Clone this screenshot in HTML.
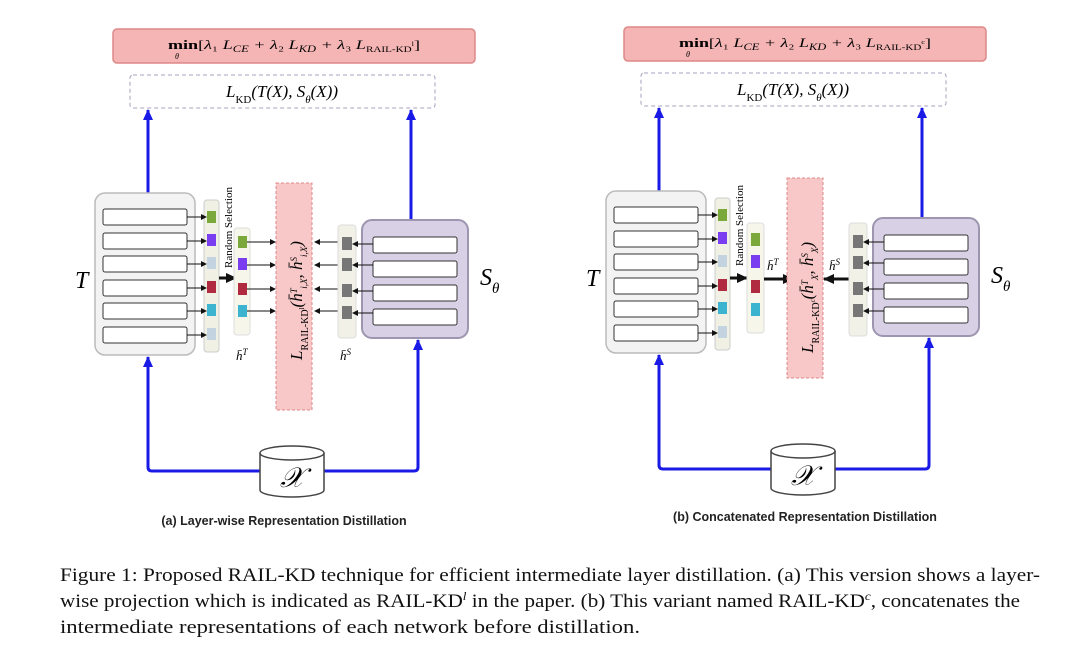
<!DOCTYPE html>
<html><head><meta charset="utf-8"><style>
body{margin:0;background:#fff;width:1080px;height:663px;overflow:hidden}
svg{display:block}
</style></head><body>
<svg width="1080" height="663" viewBox="0 0 1080 663" xmlns="http://www.w3.org/2000/svg" font-family="Liberation Serif, serif">
<defs>
<marker id="a" markerWidth="6" markerHeight="6" refX="5" refY="3" orient="auto" markerUnits="userSpaceOnUse"><path d="M0,0 L6,3 L0,6z" fill="#111"/></marker>
<marker id="b" markerWidth="12" markerHeight="12" refX="10" refY="6" orient="auto" markerUnits="userSpaceOnUse"><path d="M0,1 L11,6 L0,11z" fill="#1a1ae6"/></marker>
<marker id="k" markerWidth="12" markerHeight="10" refX="10" refY="5" orient="auto" markerUnits="userSpaceOnUse"><path d="M0,0 L11,5 L0,10z" fill="#111"/></marker>
</defs>

<!-- ===== Panel (a) ===== -->
<g>
<rect x="113" y="29" width="362" height="34" rx="4" fill="#f5b5b5" stroke="#d88" stroke-width="1.5"/>
<text x="168" y="49" font-size="13" textLength="252" lengthAdjust="spacingAndGlyphs"><tspan font-weight="bold">min</tspan>[<tspan font-style="italic">λ</tspan>₁ <tspan font-style="italic">L<tspan font-size="9" dy="3">CE</tspan><tspan dy="-3"> + λ</tspan></tspan>₂ <tspan font-style="italic">L<tspan font-size="9" dy="3">KD</tspan><tspan dy="-3"> + λ</tspan></tspan>₃ <tspan font-style="italic">L</tspan><tspan font-size="8" dy="3">RAIL-KD</tspan><tspan font-size="6" dy="-6">l</tspan><tspan dy="3">]</tspan></text>
<text x="175" y="59" font-size="8" font-style="italic">θ</text>
<rect x="130" y="75" width="305" height="33" rx="3" fill="#fff" stroke="#a8a0c0" stroke-dasharray="4,3"/>
<text x="282" y="97" font-size="17" text-anchor="middle" font-style="italic">L<tspan font-size="11" font-style="normal" baseline-shift="sub">KD</tspan>(T(X), S<tspan font-size="11" baseline-shift="sub">θ</tspan>(X))</text>

<line x1="148" y1="194" x2="148" y2="110" stroke="#1a1ae6" stroke-width="3" marker-end="url(#b)"/>
<line x1="411" y1="221" x2="411" y2="110" stroke="#1a1ae6" stroke-width="3" marker-end="url(#b)"/>
<path d="M148,360 L148,467 Q148,471 152,471 L260,471" fill="none" stroke="#1a1ae6" stroke-width="3"/>
<path d="M324,471 L414,471 Q418,471 418,467 L418,342" fill="none" stroke="#1a1ae6" stroke-width="3"/>
<line x1="148" y1="400" x2="148" y2="357" stroke="#1a1ae6" stroke-width="3" marker-end="url(#b)"/>
<line x1="418" y1="380" x2="418" y2="340" stroke="#1a1ae6" stroke-width="3" marker-end="url(#b)"/>

<path d="M260,453 L260,490 A32,7 0 0 0 324,490 L324,453" fill="#fff" stroke="#444" stroke-width="1.5"/>
<ellipse cx="292" cy="453" rx="32" ry="7" fill="#fff" stroke="#444" stroke-width="1.5"/>
<text x="292" y="487" font-size="28" text-anchor="middle" font-style="italic">𝒳</text>

<rect x="95" y="193" width="100" height="162" rx="10" fill="#f3f3f3" stroke="#bbb" stroke-width="1.5"/>
<g fill="#fff" stroke="#333" stroke-width="1">
<rect x="103" y="209" width="84" height="16" rx="2"/><rect x="103" y="233" width="84" height="16" rx="2"/><rect x="103" y="256" width="84" height="16" rx="2"/><rect x="103" y="280" width="84" height="16" rx="2"/><rect x="103" y="303" width="84" height="16" rx="2"/><rect x="103" y="327" width="84" height="16" rx="2"/>
</g>
<text x="75" y="288" font-size="24" font-style="italic">T</text>
<rect x="204" y="200" width="15" height="152" rx="3" fill="#f1f0e4" stroke="#ccc"/>
<rect x="207" y="211" width="9" height="12" fill="#7aa83a"/><rect x="207" y="234" width="9" height="12" fill="#7a3ef0"/><rect x="207" y="257" width="9" height="12" fill="#c3d3e0"/><rect x="207" y="281" width="9" height="12" fill="#b02a40"/><rect x="207" y="304" width="9" height="12" fill="#3cb3cf"/><rect x="207" y="328" width="9" height="12" fill="#c3d3e0"/>
<g stroke="#111" stroke-width="1" marker-end="url(#a)">
<line x1="187" y1="217" x2="206" y2="217"/><line x1="187" y1="241" x2="206" y2="241"/><line x1="187" y1="264" x2="206" y2="264"/><line x1="187" y1="288" x2="206" y2="288"/><line x1="187" y1="311" x2="206" y2="311"/><line x1="187" y1="335" x2="206" y2="335"/>
</g>
<text transform="translate(232,268) rotate(-90)" font-size="11">Random Selection</text>
<line x1="219" y1="278" x2="236" y2="278" stroke="#111" stroke-width="3" marker-end="url(#k)"/>
<rect x="234" y="228" width="16" height="107" rx="3" fill="#f6f6ea" stroke="#ddd"/>
<rect x="238" y="236" width="9" height="12" fill="#7aa83a"/><rect x="238" y="258" width="9" height="12" fill="#7a3ef0"/><rect x="238" y="283" width="9" height="12" fill="#b02a40"/><rect x="238" y="305" width="9" height="12" fill="#3cb3cf"/>
<g stroke="#111" stroke-width="1" marker-end="url(#a)">
<line x1="247" y1="242" x2="275" y2="242"/><line x1="247" y1="265" x2="275" y2="265"/><line x1="247" y1="289" x2="275" y2="289"/><line x1="247" y1="311" x2="275" y2="311"/>
<line x1="340" y1="242" x2="315" y2="242"/><line x1="340" y1="265" x2="315" y2="265"/><line x1="340" y1="289" x2="315" y2="289"/><line x1="340" y1="311" x2="315" y2="311"/>
</g>
<text x="236" y="360" font-size="13" font-style="italic">h̄<tspan font-size="9" baseline-shift="super">T</tspan></text>
<rect x="276" y="183" width="36" height="227" fill="#f8c8c8" stroke="#d88" stroke-dasharray="3,2"/>
<text transform="translate(302,360) rotate(-90)" font-size="17" font-style="italic">L<tspan font-size="10" font-style="normal" baseline-shift="sub">RAIL-KD<tspan font-size="7" baseline-shift="super">l</tspan></tspan>(h̄<tspan font-size="9" baseline-shift="super">T</tspan><tspan font-size="9" baseline-shift="sub">i,X</tspan>, h̄<tspan font-size="9" baseline-shift="super">S</tspan><tspan font-size="9" baseline-shift="sub">i,X</tspan>)</text>
<rect x="338" y="225" width="18" height="113" rx="3" fill="#f1f1e8" stroke="#ddd"/>
<rect x="342" y="237" width="10" height="13" fill="#777"/><rect x="342" y="258" width="10" height="13" fill="#777"/><rect x="342" y="284" width="10" height="13" fill="#777"/><rect x="342" y="306" width="10" height="13" fill="#777"/>
<text x="340" y="360" font-size="13" font-style="italic">h̄<tspan font-size="9" baseline-shift="super">S</tspan></text>
<rect x="362" y="220" width="106" height="118" rx="10" fill="#d8d0e4" stroke="#9e95b0" stroke-width="2"/>
<g fill="#fff" stroke="#333" stroke-width="1">
<rect x="373" y="237" width="84" height="16" rx="2"/><rect x="373" y="261" width="84" height="16" rx="2"/><rect x="373" y="285" width="84" height="16" rx="2"/><rect x="373" y="309" width="84" height="16" rx="2"/>
</g>
<g stroke="#111" stroke-width="1" marker-end="url(#a)">
<line x1="373" y1="244" x2="353" y2="244"/><line x1="373" y1="265" x2="353" y2="265"/><line x1="373" y1="291" x2="353" y2="291"/><line x1="373" y1="313" x2="353" y2="313"/>
</g>
<text x="480" y="285" font-size="24" font-style="italic">S<tspan font-size="15" baseline-shift="sub">θ</tspan></text>
<text x="284" y="525" font-size="12.5" font-weight="bold" text-anchor="middle" font-family="Liberation Sans, sans-serif" fill="#222">(a) Layer-wise Representation Distillation</text>
</g>

<!-- ===== Panel (b) ===== -->
<g transform="translate(511,-2)">
<rect x="113" y="29" width="362" height="34" rx="4" fill="#f5b5b5" stroke="#d88" stroke-width="1.5"/>
<text x="168" y="49" font-size="13" textLength="252" lengthAdjust="spacingAndGlyphs"><tspan font-weight="bold">min</tspan>[<tspan font-style="italic">λ</tspan>₁ <tspan font-style="italic">L<tspan font-size="9" dy="3">CE</tspan><tspan dy="-3"> + λ</tspan></tspan>₂ <tspan font-style="italic">L<tspan font-size="9" dy="3">KD</tspan><tspan dy="-3"> + λ</tspan></tspan>₃ <tspan font-style="italic">L</tspan><tspan font-size="8" dy="3">RAIL-KD</tspan><tspan font-size="6" dy="-6">c</tspan><tspan dy="3">]</tspan></text>
<text x="175" y="59" font-size="8" font-style="italic">θ</text>
<rect x="130" y="75" width="305" height="33" rx="3" fill="#fff" stroke="#a8a0c0" stroke-dasharray="4,3"/>
<text x="282" y="97" font-size="17" text-anchor="middle" font-style="italic">L<tspan font-size="11" font-style="normal" baseline-shift="sub">KD</tspan>(T(X), S<tspan font-size="11" baseline-shift="sub">θ</tspan>(X))</text>

<line x1="148" y1="194" x2="148" y2="110" stroke="#1a1ae6" stroke-width="3" marker-end="url(#b)"/>
<line x1="411" y1="221" x2="411" y2="110" stroke="#1a1ae6" stroke-width="3" marker-end="url(#b)"/>
<path d="M148,360 L148,467 Q148,471 152,471 L260,471" fill="none" stroke="#1a1ae6" stroke-width="3"/>
<path d="M324,471 L414,471 Q418,471 418,467 L418,342" fill="none" stroke="#1a1ae6" stroke-width="3"/>
<line x1="148" y1="400" x2="148" y2="357" stroke="#1a1ae6" stroke-width="3" marker-end="url(#b)"/>
<line x1="418" y1="380" x2="418" y2="340" stroke="#1a1ae6" stroke-width="3" marker-end="url(#b)"/>

<path d="M260,453 L260,490 A32,7 0 0 0 324,490 L324,453" fill="#fff" stroke="#444" stroke-width="1.5"/>
<ellipse cx="292" cy="453" rx="32" ry="7" fill="#fff" stroke="#444" stroke-width="1.5"/>
<text x="292" y="487" font-size="28" text-anchor="middle" font-style="italic">𝒳</text>

<rect x="95" y="193" width="100" height="162" rx="10" fill="#f3f3f3" stroke="#bbb" stroke-width="1.5"/>
<g fill="#fff" stroke="#333" stroke-width="1">
<rect x="103" y="209" width="84" height="16" rx="2"/><rect x="103" y="233" width="84" height="16" rx="2"/><rect x="103" y="256" width="84" height="16" rx="2"/><rect x="103" y="280" width="84" height="16" rx="2"/><rect x="103" y="303" width="84" height="16" rx="2"/><rect x="103" y="327" width="84" height="16" rx="2"/>
</g>
<text x="75" y="288" font-size="24" font-style="italic">T</text>
<rect x="204" y="200" width="15" height="152" rx="3" fill="#f1f0e4" stroke="#ccc"/>
<rect x="207" y="211" width="9" height="12" fill="#7aa83a"/><rect x="207" y="234" width="9" height="12" fill="#7a3ef0"/><rect x="207" y="257" width="9" height="12" fill="#c3d3e0"/><rect x="207" y="281" width="9" height="12" fill="#b02a40"/><rect x="207" y="304" width="9" height="12" fill="#3cb3cf"/><rect x="207" y="328" width="9" height="12" fill="#c3d3e0"/>
<g stroke="#111" stroke-width="1" marker-end="url(#a)">
<line x1="187" y1="217" x2="206" y2="217"/><line x1="187" y1="241" x2="206" y2="241"/><line x1="187" y1="264" x2="206" y2="264"/><line x1="187" y1="288" x2="206" y2="288"/><line x1="187" y1="311" x2="206" y2="311"/><line x1="187" y1="335" x2="206" y2="335"/>
</g>
<text transform="translate(232,268) rotate(-90)" font-size="11">Random Selection</text>
<line x1="219" y1="280" x2="236" y2="280" stroke="#111" stroke-width="3" marker-end="url(#k)"/>
<rect x="236" y="225" width="17" height="110" rx="3" fill="#f6f6ea" stroke="#ddd"/>
<rect x="240" y="235" width="9" height="13" fill="#7aa83a"/><rect x="240" y="257" width="9" height="13" fill="#7a3ef0"/><rect x="240" y="282" width="9" height="13" fill="#b02a40"/><rect x="240" y="305" width="9" height="13" fill="#3cb3cf"/>
<text x="256" y="272" font-size="13" font-style="italic">h̄<tspan font-size="9" baseline-shift="super">T</tspan></text>
<line x1="253" y1="281" x2="282" y2="281" stroke="#111" stroke-width="3" marker-end="url(#k)"/>
<rect x="276" y="180" width="36" height="200" fill="#f8c8c8" stroke="#d88" stroke-dasharray="3,2"/>
<text transform="translate(302,355) rotate(-90)" font-size="17" font-style="italic">L<tspan font-size="10" font-style="normal" baseline-shift="sub">RAIL-KD<tspan font-size="7" baseline-shift="super">c</tspan></tspan>(h̄<tspan font-size="9" baseline-shift="super">T</tspan><tspan font-size="9" baseline-shift="sub">X</tspan>, h̄<tspan font-size="9" baseline-shift="super">S</tspan><tspan font-size="9" baseline-shift="sub">X</tspan>)</text>
<line x1="340" y1="281" x2="313" y2="281" stroke="#111" stroke-width="3" marker-end="url(#k)"/>
<text x="318" y="272" font-size="13" font-style="italic">h̄<tspan font-size="9" baseline-shift="super">S</tspan></text>
<rect x="338" y="225" width="18" height="113" rx="3" fill="#f1f1e8" stroke="#ddd"/>
<rect x="342" y="237" width="10" height="13" fill="#777"/><rect x="342" y="258" width="10" height="13" fill="#777"/><rect x="342" y="284" width="10" height="13" fill="#777"/><rect x="342" y="306" width="10" height="13" fill="#777"/>
<rect x="362" y="220" width="106" height="118" rx="10" fill="#d8d0e4" stroke="#9e95b0" stroke-width="2"/>
<g fill="#fff" stroke="#333" stroke-width="1">
<rect x="373" y="237" width="84" height="16" rx="2"/><rect x="373" y="261" width="84" height="16" rx="2"/><rect x="373" y="285" width="84" height="16" rx="2"/><rect x="373" y="309" width="84" height="16" rx="2"/>
</g>
<g stroke="#111" stroke-width="1" marker-end="url(#a)">
<line x1="373" y1="244" x2="353" y2="244"/><line x1="373" y1="265" x2="353" y2="265"/><line x1="373" y1="291" x2="353" y2="291"/><line x1="373" y1="313" x2="353" y2="313"/>
</g>
<text x="480" y="285" font-size="24" font-style="italic">S<tspan font-size="15" baseline-shift="sub">θ</tspan></text>
<text x="294" y="523" font-size="12.5" font-weight="bold" text-anchor="middle" font-family="Liberation Sans, sans-serif" fill="#222">(b) Concatenated Representation Distillation</text>
</g>

<!-- caption -->
<g font-size="19" fill="#111">
<text x="60" y="581" textLength="980" lengthAdjust="spacingAndGlyphs">Figure 1: Proposed RAIL-KD technique for efficient intermediate layer distillation. (a) This version shows a layer-</text>
<text x="60" y="607" textLength="960" lengthAdjust="spacingAndGlyphs">wise projection which is indicated as RAIL-KD<tspan font-size="12" dy="-7" font-style="italic">l</tspan><tspan dy="7"> in the paper. (b) This variant named RAIL-KD</tspan><tspan font-size="12" dy="-7" font-style="italic">c</tspan><tspan dy="7">, concatenates the</tspan></text>
<text x="60" y="633" textLength="580" lengthAdjust="spacingAndGlyphs">intermediate representations of each network before distillation.</text>
</g>
</svg>
</body></html>
